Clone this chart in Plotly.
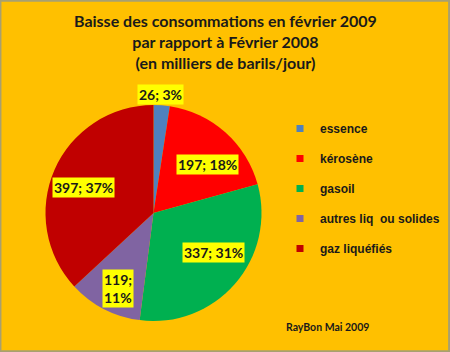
import math
import plotly.graph_objects as go

# ---- data ----
categories = ["essence", "kérosène", "gasoil", "autres liq  ou solides", "gaz liquéfiés"]
values = [26, 197, 337, 119, 397]
pct_labels = ["3%", "18%", "31%", "11%", "37%"]
colors = ["#4F81BD", "#FF0000", "#00B050", "#8064A2", "#C00000"]

title_lines = ["Baisse des consommations en février 2009",
               "par rapport à Février 2008",
               "(en milliers de barils/jour)"]
credit = "RayBon Mai 2009"

# ---- layout constants ----
W, H = 450, 352
BG = "#FFC000"
cx, cy_top, R = 153.5, 213, 108      # pie centre (px from left / top) and radius
cy = H - cy_top
label_r = [1.10, 0.667, 0.66, 0.77, 0.687]   # label distance as fraction of radius
label_dang = [-1.2, 6.5, -7.8, -2.0, -3.1]   # label angular offset (degrees)
FONT = "Lato"

fig = go.Figure()

fig.add_trace(go.Pie(
    labels=categories, values=values, sort=False, direction="clockwise",
    rotation=0, marker=dict(colors=colors, line=dict(width=0)),
    textinfo="none", hoverinfo="label+value+percent", showlegend=False,
    domain=dict(x=[(cx - R) / W, (cx + R) / W], y=[(cy - R) / H, (cy + R) / H]),
))

# legend entries via dummy traces (to control spacing)
for i, (cat, col) in enumerate(zip(categories, colors)):
    fig.add_trace(go.Scatter(
        x=[None], y=[None], mode="markers", name="<b>" + cat + "</b>", legendgroup=f"g{i}",
        marker=dict(symbol="square", size=7, color=col),
    ))

# data labels with yellow boxes
total = sum(values)
cum = 0
annotations = []
for i, v in enumerate(values):
    mid = (cum + v / 2) / total * 360 + label_dang[i]
    cum += v
    r = R * label_r[i]
    px = cx + r * math.sin(math.radians(mid))
    py = cy + r * math.cos(math.radians(mid))
    txt = f"{v}; {pct_labels[i]}" if i != 3 else f"{v};<br>{pct_labels[i]}"
    annotations.append(dict(
        x=px / W, y=py / H, xref="paper", yref="paper", text="<b>" + txt + "</b>",
        showarrow=False, bgcolor="#FFFF00", borderpad=1, xanchor="center", yanchor="middle",
        font=dict(family=FONT, size=14, color="#1a1a1a"), align="left",
    ))

# title
annotations.append(dict(
    x=0.502, y=1 - 9 / H, xref="paper", yref="paper", yanchor="top",
    text="<b>" + "<br>".join(title_lines) + "</b>", showarrow=False,
    font=dict(family=FONT, size=16, color="#1a1a1a"), align="center",
))
# credit
annotations.append(dict(
    x=327 / W, y=1 - 327 / H, xref="paper", yref="paper", xanchor="center", yanchor="middle",
    text="<b>" + credit + "</b>", showarrow=False,
    font=dict(family=FONT, size=10.5, color="#1a1a1a"),
))

fig.update_layout(
    width=W, height=H, margin=dict(l=0, r=0, t=0, b=0, autoexpand=False),
    paper_bgcolor=BG, plot_bgcolor=BG,
    xaxis=dict(visible=False), yaxis=dict(visible=False),
    legend=dict(x=280 / W, y=1 - 114 / H, xanchor="left", yanchor="top",
                bgcolor="rgba(0,0,0,0)", tracegroupgap=11, itemwidth=30,
                font=dict(family="Liberation Sans", size=12, color="#1a1a1a"),
                traceorder="grouped"),
    annotations=annotations,
    shapes=[dict(type="rect", xref="paper", yref="paper", x0=0.001, y0=0.002, x1=0.998, y1=0.998,
                 line=dict(color="#A8A070", width=2))],
)

fig.write_html("out.html")
